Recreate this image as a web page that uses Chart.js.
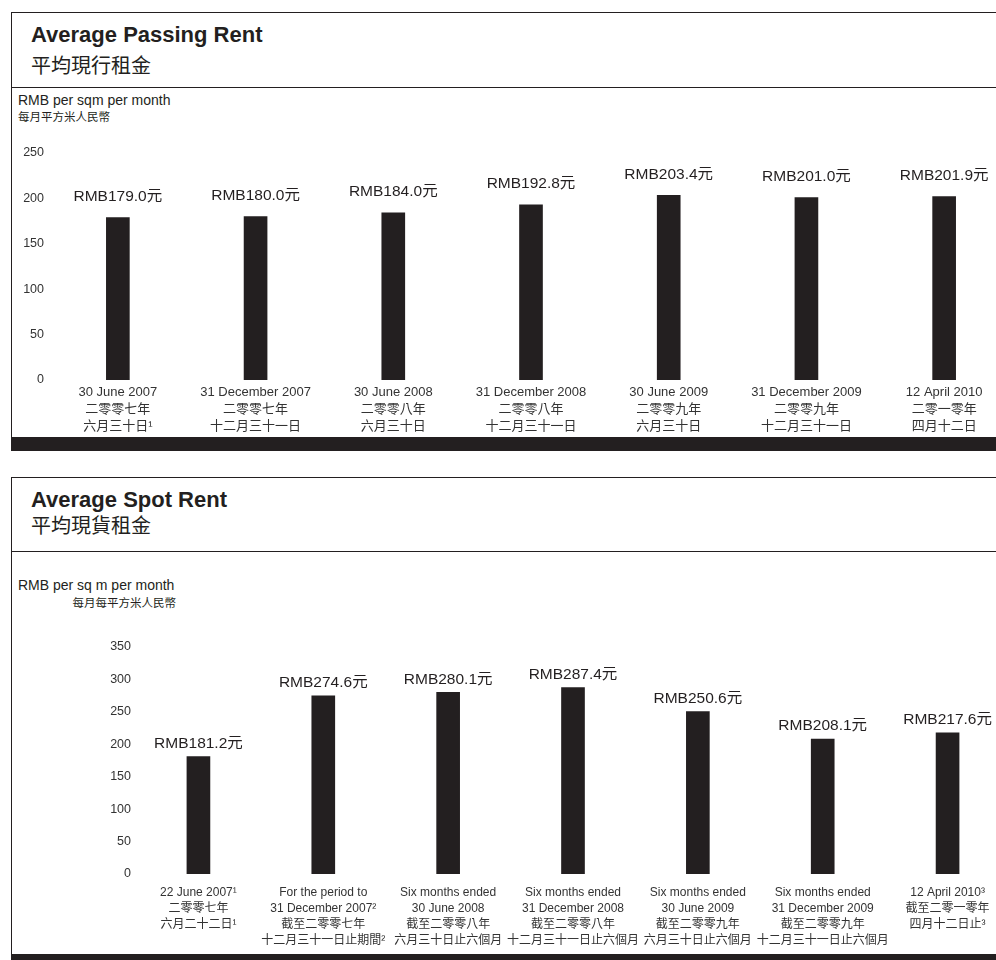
<!DOCTYPE html>
<html>
<head>
<meta charset="utf-8">
<script src="https://cdn.jsdelivr.net/npm/chart.js@4/dist/chart.umd.min.js"></script>
<style>
  html, body { margin:0; padding:0; }
  body { width:996px; height:960px; overflow:hidden; position:relative; background:#fff;
         font-family:"Liberation Sans","Noto Sans CJK TC",sans-serif; color:#231f20; }
  .abs { position:absolute; white-space:nowrap; line-height:1; }
  .panel { position:absolute; left:11px; width:1000px; border-left:1.5px solid #231f20; border-top:1.5px solid #231f20; box-sizing:border-box; }
  .hline { position:absolute; left:11px; width:1000px; height:0; border-top:1.5px solid #231f20; }
  .bar { position:absolute; left:11px; width:1000px; background:#231f20; }
  .t-en { font-weight:bold; font-size:22px; }
  .t-zh { font-size:20px; font-family:"Noto Sans CJK TC",sans-serif; }
  .ax-en { font-size:14px; }
  .ax-zh { font-size:11.5px; font-family:"Noto Sans CJK TC",sans-serif; }
  canvas { position:absolute; left:0; }
</style>
</head>
<body>
<!-- Panel 1 -->
<div class="panel" style="top:12px;height:425px;"></div>
<div class="hline" style="top:87px;"></div>
<div class="bar" style="top:437px;height:14px;"></div>
<div class="abs t-en" style="left:31px;top:24px;">Average Passing Rent</div>
<div class="abs t-zh" style="left:31px;top:55px;">平均現行租金</div>
<div class="abs ax-en" style="left:18px;top:93px;">RMB per sqm per month</div>
<div class="abs ax-zh" style="left:18px;top:111px;">每月平方米人民幣</div>
<canvas id="c1" width="1013" height="297" style="top:140px;width:1013px;height:297px;"></canvas>

<!-- Panel 2 -->
<div class="panel" style="top:477px;height:477px;"></div>
<div class="hline" style="top:551px;"></div>
<div class="bar" style="top:954px;height:10px;"></div>
<div class="abs t-en" style="left:31px;top:489px;">Average Spot Rent</div>
<div class="abs t-zh" style="left:31px;top:515px;">平均現貨租金</div>
<div class="abs ax-en" style="left:18px;top:578px;">RMB per sq m per month</div>
<div class="abs ax-zh" style="left:65px;top:597px;width:111px;text-align:right;">每月每平方米人民幣</div>
<canvas id="c2" width="1010" height="324" style="top:630px;width:1010px;height:324px;"></canvas>

<script>
// ---------- Data ----------
const passingCategories = [
  ['30 June 2007', '二零零七年', '六月三十日¹'],
  ['31 December 2007', '二零零七年', '十二月三十一日'],
  ['30 June 2008', '二零零八年', '六月三十日'],
  ['31 December 2008', '二零零八年', '十二月三十一日'],
  ['30 June 2009', '二零零九年', '六月三十日'],
  ['31 December 2009', '二零零九年', '十二月三十一日'],
  ['12 April 2010', '二零一零年', '四月十二日']
];
const passingValues = [179.0, 180.0, 184.0, 192.8, 203.4, 201.0, 201.9];
const passingTicks = [0, 50, 100, 150, 200, 250];

const spotCategories = [
  ['22 June 2007¹', '二零零七年', '六月二十二日¹'],
  ['For the period to', '31 December 2007²', '截至二零零七年', '十二月三十一日止期間²'],
  ['Six months ended', '30 June 2008', '截至二零零八年', '六月三十日止六個月'],
  ['Six months ended', '31 December 2008', '截至二零零八年', '十二月三十一日止六個月'],
  ['Six months ended', '30 June 2009', '截至二零零九年', '六月三十日止六個月'],
  ['Six months ended', '31 December 2009', '截至二零零九年', '十二月三十一日止六個月'],
  ['12 April 2010³', '截至二零一零年', '四月十二日止³']
];
const spotValues = [181.2, 274.6, 280.1, 287.4, 250.6, 208.1, 217.6];
const spotTicks = [0, 50, 100, 150, 200, 250, 300, 350];

// ---------- Helpers ----------
const INK = '#231f20';
const FONT = '"Liberation Sans","Noto Sans CJK TC",sans-serif';

function valueLabelPlugin(offset) {
  return {
    id: 'valueLabels',
    afterDatasetsDraw(chart) {
      const ctx = chart.ctx;
      const meta = chart.getDatasetMeta(0);
      const data = chart.data.datasets[0].data;
      ctx.save();
      ctx.font = '15.5px ' + FONT;
      ctx.fillStyle = INK;
      ctx.textAlign = 'center';
      ctx.textBaseline = 'middle';
      meta.data.forEach((bar, i) => {
        ctx.fillText('RMB' + data[i].toFixed(1) + '元', bar.x, bar.y - offset);
      });
      ctx.restore();
    }
  };
}

function makeChart(id, cats, vals, ticks, opts) {
  return new Chart(document.getElementById(id), {
    type: 'bar',
    data: {
      labels: cats,
      datasets: [{ data: vals, backgroundColor: INK, borderWidth: 0, barThickness: 23 }]
    },
    options: {
      responsive: false,
      animation: false,
      layout: { padding: { top: opts.padTop, right: 0, left: 0, bottom: 0 } },
      plugins: { legend: { display: false }, tooltip: { enabled: false } },
      scales: {
        x: {
          grid: { display: false, drawTicks: false },
          border: { display: false },
          ticks: {
            autoSkip: false, maxRotation: 0, minRotation: 0,
            padding: opts.xPad, color: '#333',
            font: { family: FONT, size: opts.xSize, lineHeight: opts.xLH }
          },
          afterFit(scale) { scale.height = opts.xHeight; }
        },
        y: {
          min: 0, max: ticks[ticks.length - 1],
          afterBuildTicks(scale) { scale.ticks = ticks.map(v => ({ value: v })); },
          grid: { display: false, drawTicks: false },
          border: { display: false },
          ticks: { padding: 5, color: '#333', font: { family: FONT, size: 12.5 } },
          afterFit(scale) { scale.width = opts.yWidth; }
        }
      }
    },
    plugins: [valueLabelPlugin(opts.labelOffset)]
  });
}

makeChart('c1', passingCategories, passingValues, passingTicks,
  { padTop: 13, xPad: 4, xSize: 13, xLH: 17 / 13, xHeight: 57, yWidth: 49, labelOffset: 21 });
makeChart('c2', spotCategories, spotValues, spotTicks,
  { padTop: 17, xPad: 11, xSize: 12, xLH: 16 / 12, xHeight: 80, yWidth: 136, labelOffset: 13 });
</script>
</body>
</html>
